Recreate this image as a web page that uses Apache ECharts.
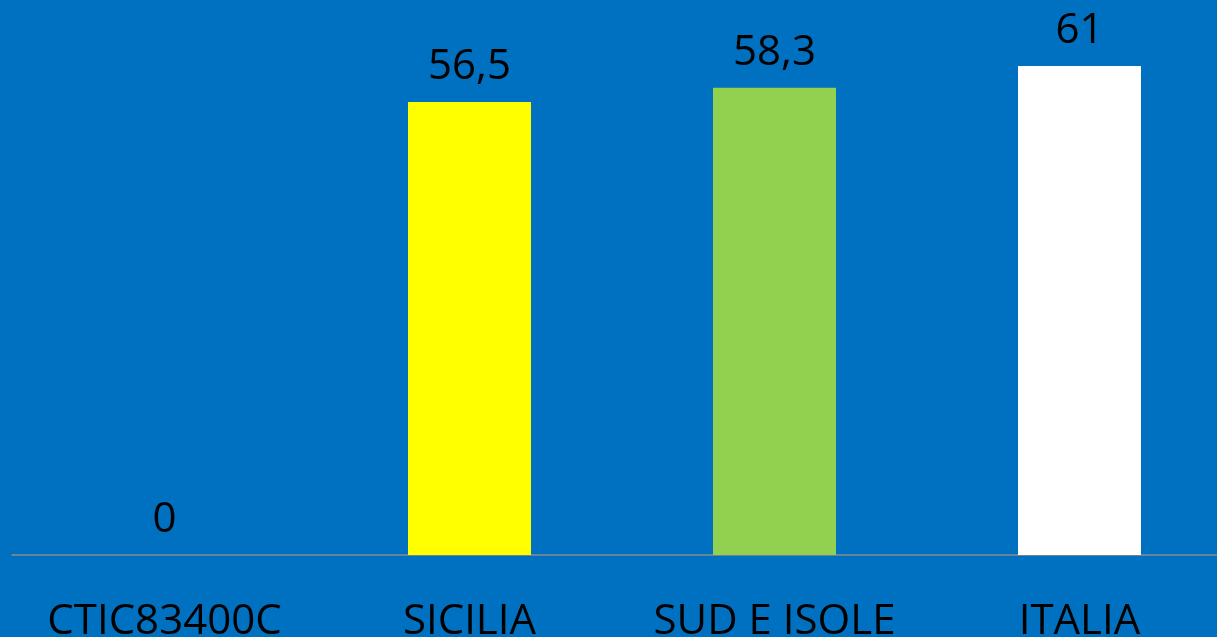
<!DOCTYPE html>
<html>
<head>
<meta charset="utf-8">
<script src="https://cdn.jsdelivr.net/npm/echarts@6/dist/echarts.min.js"></script>
<style>
  html, body { margin: 0; padding: 0; background: #0070C0; }
  #chart { width: 1217px; height: 637px; }
</style>
</head>
<body>
<div id="chart"></div>
<script>
// categorie e valori
const categories = ['CTIC83400C', 'SICILIA', 'SUD E ISOLE', 'ITALIA']
const values = [0, 56.5, 58.3, 61]
const barColors = ['#0070C0', '#FFFF00', '#92D050', '#FFFFFF']

const myChart = echarts.init(document.getElementById('chart'))
const option = {
  backgroundColor: '#0070C0',
  animation: false,
  grid: { left: 12, right: -15, top: 66, bottom: 82, containLabel: false, outerBoundsMode: 'none' },
  xAxis: {
    type: 'category',
    data: categories,
    axisTick: { show: false },
    axisLine: { lineStyle: { color: '#8a8a8a', width: 1.5 } },
    axisLabel: {
      color: '#000',
      fontFamily: 'Open Sans',
      fontSize: 42,
      margin: 46,
      interval: 0
    }
  },
  yAxis: {
    type: 'value',
    min: 0,
    max: 61,
    show: false,
    splitLine: { show: false }
  },
  series: [{
    type: 'bar',
    barWidth: 123,
    data: values.map((v, i) => ({ value: v, itemStyle: { color: barColors[i] } })),
    label: {
      show: true,
      position: 'top',
      distance: 14,
      color: '#000',
      fontFamily: 'Open Sans',
      fontSize: 42,
      formatter: p => String(p.value).replace('.', ',')
    }
  }]
}
myChart.setOption(option)
</script>
</body>
</html>
